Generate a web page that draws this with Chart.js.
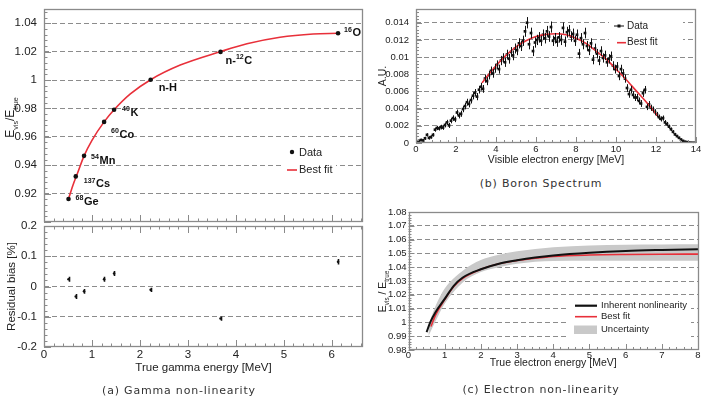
<!DOCTYPE html>
<html>
<head>
<meta charset="utf-8">
<title>Energy non-linearity</title>
<script src="https://cdn.jsdelivr.net/npm/chart.js@4.4.1/dist/chart.umd.min.js"></script>
<style>
  body { margin: 0; background: #fff; }
  #page { position: relative; width: 702px; height: 397px; overflow: hidden; background: #fff; }
  #page canvas { position: absolute; }
  .caption { position: absolute; font-family: 'DejaVu Sans', sans-serif; font-size: 11px; color: #333;
             letter-spacing: 0.8px; white-space: nowrap; line-height: 1; transform: translate(-50%, -50%); }
</style>
</head>
<body>
<div id="page">
  <canvas id="gammaTop" width="370" height="226" style="left:0px;top:0px"></canvas>
  <canvas id="gammaRes" width="370" height="170" style="left:0px;top:216px"></canvas>
  <canvas id="boron" width="330" height="170" style="left:372px;top:0px"></canvas>
  <canvas id="electron" width="330" height="175" style="left:372px;top:200px"></canvas>
  <div class="caption" style="left:179px;top:390px">(a) Gamma non-linearity</div>
  <div class="caption" style="left:541px;top:183px">(b) Boron Spectrum</div>
  <div class="caption" style="left:541px;top:389px">(c) Electron non-linearity</div>
</div>
<script>
// (a) gamma sources
const gammaSources = ['^{68}Ge', '^{137}Cs', '^{54}Mn', '^{60}Co', '^{40}K', 'n-H', 'n-^{12}C', '^{16}O'];
const gammaEnergy = [0.511, 0.662, 0.835, 1.253, 1.461, 2.223, 3.68, 6.13];
const gammaRatio = [0.9162, 0.9321, 0.9466, 0.9705, 0.9790, 1.0002, 1.0198, 1.0329];
const gammaResidual = [0.024, -0.033, -0.016, 0.024, 0.043, -0.011, -0.106, 0.082];
const gammaResidualErr = [0.008, 0.008, 0.008, 0.008, 0.008, 0.007, 0.007, 0.009];
const gammaFitEnergy = [0.511, 0.6, 0.7, 0.835, 1.0, 1.253, 1.461, 1.8, 2.223, 2.84, 3.68, 4.23, 4.92, 5.61, 6.13];
const gammaFitRatio = [0.9162, 0.9256, 0.9345, 0.9466, 0.9575, 0.9705, 0.9790, 0.9902, 1.0002, 1.0105, 1.0200, 1.0255, 1.0301, 1.0324, 1.0329];
const gammaXTicks = [0, 1, 2, 3, 4, 5, 6];
const gammaRatioTicks = [0.92, 0.94, 0.96, 0.98, 1, 1.02, 1.04];
const residualTicks = [-0.2, -0.1, 0, 0.1, 0.2];

// (b) boron spectrum, 0.1 MeV bins
const boronEnergy = [
  0.05, 0.15, 0.25, 0.35, 0.45, 0.55, 0.65, 0.75, 0.85, 0.95,
  1.05, 1.15, 1.25, 1.35, 1.45, 1.55, 1.65, 1.75, 1.85, 1.95,
  2.05, 2.15, 2.25, 2.35, 2.45, 2.55, 2.65, 2.75, 2.85, 2.95,
  3.05, 3.15, 3.25, 3.35, 3.45, 3.55, 3.65, 3.75, 3.85, 3.95,
  4.05, 4.15, 4.25, 4.35, 4.45, 4.55, 4.65, 4.75, 4.85, 4.95,
  5.05, 5.15, 5.25, 5.35, 5.45, 5.55, 5.65, 5.75, 5.85, 5.95,
  6.05, 6.15, 6.25, 6.35, 6.45, 6.55, 6.65, 6.75, 6.85, 6.95,
  7.05, 7.15, 7.25, 7.35, 7.45, 7.55, 7.65, 7.75, 7.85, 7.95,
  8.05, 8.15, 8.25, 8.35, 8.45, 8.55, 8.65, 8.75, 8.85, 8.95,
  9.05, 9.15, 9.25, 9.35, 9.45, 9.55, 9.65, 9.75, 9.85, 9.95,
  10.05, 10.15, 10.25, 10.35, 10.45, 10.55, 10.65, 10.75, 10.85, 10.95,
  11.05, 11.15, 11.25, 11.35, 11.45, 11.55, 11.65, 11.75, 11.85, 11.95,
  12.05, 12.15, 12.25, 12.35, 12.45, 12.55, 12.65, 12.75, 12.85, 12.95,
  13.05, 13.15, 13.25, 13.35, 13.45, 13.55, 13.65, 13.75, 13.85, 13.95
];
const boronCounts = [
  0.00015, 0.00025, 0.00035, 0.0003, 0.00055, 0.00095, 0.0006, 0.0007, 0.00095, 0.00155,
  0.00175, 0.0017, 0.00185, 0.0018, 0.0021, 0.0024, 0.00205, 0.0026, 0.0029, 0.00275,
  0.00355, 0.0032, 0.0034, 0.00395, 0.0043, 0.00475, 0.00455, 0.005, 0.0055, 0.00585,
  0.0054, 0.0062, 0.00655, 0.0063, 0.0075, 0.0072, 0.0079, 0.0084, 0.0081, 0.0087,
  0.0091, 0.0086, 0.0096, 0.0099, 0.0094, 0.0103, 0.0098, 0.0106, 0.0102, 0.011,
  0.0108, 0.0116, 0.0113, 0.0119, 0.013, 0.014, 0.0115, 0.0128, 0.0107, 0.0117,
  0.012, 0.0123, 0.0119, 0.0126, 0.0122, 0.013, 0.0124, 0.0135, 0.0119, 0.0122,
  0.0118, 0.0123, 0.012, 0.0134, 0.0118, 0.0129, 0.0131, 0.0124, 0.0127, 0.0119,
  0.0126, 0.0104, 0.0122, 0.0115, 0.0128, 0.0113, 0.0108, 0.0116, 0.0097, 0.011,
  0.0104, 0.0096, 0.0107, 0.0099, 0.0102, 0.0094, 0.0098, 0.0101, 0.009, 0.0086,
  0.0089, 0.0078, 0.0086, 0.0081, 0.0075, 0.0064, 0.0057, 0.0062, 0.0056, 0.0053,
  0.0053, 0.0049, 0.0046, 0.0058, 0.0062, 0.0042, 0.0045, 0.0041, 0.0039, 0.0036,
  0.0033, 0.003, 0.0028, 0.0029, 0.0024, 0.0022, 0.0019, 0.0016, 0.0013, 0.001,
  0.0008, 0.0006, 0.0004, 0.00025, 0.00015, 0.0001, 0.00005, 0.00003, 0.00002, 0.00002
];
const boronErrors = [
  0.00012, 0.00012, 0.00014, 0.00015, 0.00017, 0.00019, 0.0002, 0.0002, 0.00021, 0.00024,
  0.00025, 0.00025, 0.00027, 0.00027, 0.00028, 0.0003, 0.0003, 0.00031, 0.00032, 0.00032,
  0.00034, 0.00034, 0.00035, 0.00037, 0.00038, 0.0004, 0.0004, 0.0004, 0.00042, 0.00043,
  0.00042, 0.00044, 0.00045, 0.00045, 0.00048, 0.00047, 0.0005, 0.0005, 0.0005, 0.00052,
  0.00052, 0.00052, 0.00054, 0.00055, 0.00054, 0.00056, 0.00056, 0.00057, 0.00057, 0.00058,
  0.00058, 0.0006, 0.00059, 0.0006, 0.00064, 0.00066, 0.0006, 0.00063, 0.00058, 0.0006,
  0.0006, 0.00061, 0.0006, 0.00062, 0.00061, 0.00063, 0.00062, 0.00065, 0.0006, 0.00061,
  0.0006, 0.00061, 0.0006, 0.00064, 0.0006, 0.00063, 0.00063, 0.00061, 0.00062, 0.0006,
  0.00061, 0.00056, 0.0006, 0.00059, 0.00062, 0.00058, 0.00057, 0.00059, 0.00054, 0.00057,
  0.00055, 0.00054, 0.00056, 0.00054, 0.00055, 0.00053, 0.00054, 0.00055, 0.00052, 0.00051,
  0.00052, 0.00049, 0.00051, 0.0005, 0.00048, 0.00045, 0.00043, 0.00044, 0.00042, 0.00041,
  0.00042, 0.0004, 0.0004, 0.00043, 0.00044, 0.00037, 0.00038, 0.00036, 0.00035, 0.00034,
  0.00032, 0.00031, 0.0003, 0.0003, 0.00027, 0.00025, 0.00024, 0.00021, 0.0002, 0.00018,
  0.00015, 0.00013, 0.00011, 0.00009, 0.00007, 0.00006, 0.00004, 0.00003, 0.00003, 0.00003
];
const boronFitEnergy = [3.3, 3.5, 4.0, 4.5, 5.0, 5.5, 6.0, 6.5, 7.0, 7.5, 8.0, 8.5, 9.0, 9.5, 10.0, 10.5, 11.0, 11.5, 12.0, 12.1];
const boronFitCounts = [0.0070, 0.0076, 0.0090, 0.0102, 0.0112, 0.0119, 0.0124, 0.01265, 0.01272, 0.0126, 0.0122, 0.0116, 0.0107, 0.0098, 0.0086, 0.0074, 0.0061, 0.0048, 0.0034, 0.0031];
const boronXTicks = [0, 2, 4, 6, 8, 10, 12, 14];
const boronYTicks = [0, 0.002, 0.004, 0.006, 0.008, 0.01, 0.012, 0.014];

// (c) electron non-linearity
const inherentEnergy = [0.5, 0.6, 0.75, 1.0, 1.25, 1.5, 2.0, 2.5, 3.0, 3.5, 4.0, 5.0, 6.0, 7.0, 8.0];
const inherentRatio = [0.993, 1.0, 1.0075, 1.017, 1.0265, 1.0325, 1.0385, 1.0425, 1.045, 1.047, 1.0485, 1.0505, 1.0518, 1.0525, 1.053];
const bestFitEnergy = [0.62, 0.75, 1.0, 1.25, 1.5, 2.0, 2.5, 3.0, 3.5, 4.0, 5.0, 6.0, 7.0, 8.0];
const bestFitRatio = [0.997, 1.0055, 1.0165, 1.026, 1.032, 1.0385, 1.0425, 1.0448, 1.0465, 1.0478, 1.0488, 1.0492, 1.0494, 1.0495];
const bandEnergy = [0.55, 0.75, 1.0, 1.5, 2.0, 2.5, 3.0, 4.0, 5.0, 6.0, 7.0, 8.0];
const bandUpper = [0.998, 1.012, 1.0245, 1.0375, 1.0452, 1.049, 1.0515, 1.0545, 1.0558, 1.0563, 1.0565, 1.0566];
const bandLower = [0.99, 1.001, 1.0135, 1.029, 1.0365, 1.040, 1.0425, 1.0445, 1.0446, 1.0446, 1.0446, 1.0446];
const electronXTicks = [0, 1, 2, 3, 4, 5, 6, 7, 8];
const electronYTicks = [0.98, 0.99, 1, 1.01, 1.02, 1.03, 1.04, 1.05, 1.06, 1.07, 1.08];

const RED = '#e8303a';
const TXT = '#222';
const GRID = '#8c8c8c';
const FRAME = '#8a8a8a';
const FONT = "'Liberation Sans', Arial, sans-serif";
const NARROW = "'Liberation Sans Narrow', 'Liberation Sans', Arial, sans-serif";

Chart.defaults.font.family = FONT;
Chart.defaults.color = TXT;

const fmt = v => String(parseFloat(v.toFixed(6)));
const pts = (xs, ys) => xs.map((x, i) => ({ x: x, y: ys[i] }));

function axis(o) {
  const onEdge = v => Math.abs(v - o.min) < 1e-9 || Math.abs(v - o.max) < 1e-9;
  return {
    type: 'linear', position: o.position, min: o.min, max: o.max, display: o.display !== false,
    afterBuildTicks: s => { s.ticks = o.ticks.map(v => ({ value: v })); },
    ticks: { autoSkip: false, maxRotation: 0, padding: o.pad, color: TXT,
             font: { size: o.size, family: o.family || FONT }, callback: v => fmt(v) },
    grid: {
      display: !!o.grid, drawTicks: false, lineWidth: 1,
      color: c => (c.tick && !onEdge(c.tick.value)) ? GRID : 'rgba(0,0,0,0)'
    },
    border: { display: false, dash: [5, 3] },
    title: o.title ? { display: true, text: o.title, color: TXT, font: { size: o.titleSize }, padding: o.titlePad } : { display: false },
    afterFit: s => {
      if (o.position === 'left') s.width = o.extent; else s.height = o.extent;
      s.paddingLeft = s.paddingRight = s.paddingTop = s.paddingBottom = 0;
    }
  };
}

function isMajor(v, major) {
  const r = v / major;
  return Math.abs(r - Math.round(r)) < 1e-6;
}

function axisTicks(ctx, scale, a, step, major, side, long, short) {
  const k0 = Math.ceil(scale.min / step - 1e-6), k1 = Math.floor(scale.max / step + 1e-6);
  ctx.beginPath();
  for (let k = k0; k <= k1; k++) {
    const v = k * step;
    const len = isMajor(v, major) ? long : short;
    const p = Math.round(scale.getPixelForValue(v)) + 0.5;
    if (side === 'left') { ctx.moveTo(a.left, p); ctx.lineTo(a.left + len, p); }
    if (side === 'bottom') { ctx.moveTo(p, a.bottom); ctx.lineTo(p, a.bottom - len); }
    if (side === 'top') { ctx.moveTo(p, a.top); ctx.lineTo(p, a.top + len); }
  }
  ctx.stroke();
}

// text with ^{...} superscripts
function drawRich(ctx, text, x, y, size) {
  const parts = text.split(/\^\{([^}]*)\}/);
  let cx = x;
  parts.forEach((p, i) => {
    if (!p) return;
    const sup = i % 2 === 1;
    ctx.font = 'bold ' + (sup ? size * 0.64 : size) + 'px ' + FONT;
    ctx.fillText(p, cx, sup ? y - size * 0.42 : y);
    cx += ctx.measureText(p).width + (sup ? 0.6 : 0);
  });
}

// rotated axis title with subscripts: parts = [[text, isSub], ...]
function verticalTitle(ctx, parts, cx, cy, size) {
  ctx.save();
  ctx.translate(cx, cy);
  ctx.rotate(-Math.PI / 2);
  ctx.fillStyle = TXT;
  ctx.textBaseline = 'alphabetic';
  const font = sub => (sub ? size * 0.6 : size) + 'px ' + FONT;
  let w = 0;
  parts.forEach(([t, sub]) => { ctx.font = font(sub); w += ctx.measureText(t).width; });
  let x = -w / 2;
  const base = size * 0.36;
  parts.forEach(([t, sub]) => {
    ctx.font = font(sub);
    ctx.fillText(t, x, sub ? base + size * 0.28 : base);
    x += ctx.measureText(t).width;
  });
  ctx.restore();
}

function errorBars(chart, dsIndex, errs, width) {
  const { ctx, scales: { x, y } } = chart;
  const data = chart.data.datasets[dsIndex].data;
  ctx.save();
  ctx.strokeStyle = '#111';
  ctx.lineWidth = width;
  ctx.beginPath();
  data.forEach((d, i) => {
    const px = Math.round(x.getPixelForValue(d.x)) + 0.5;
    ctx.moveTo(px, y.getPixelForValue(d.y - errs[i]));
    ctx.lineTo(px, y.getPixelForValue(d.y + errs[i]));
  });
  ctx.stroke();
  ctx.restore();
}

function rootFrame(cfg) {
  return {
    id: 'rootFrame',
    afterDatasetsDraw(chart) {
      if (cfg.errors) errorBars(chart, cfg.errors.index, cfg.errors.values, cfg.errors.width);
    },
    afterDraw(chart) {
      const { ctx, chartArea: a, scales } = chart;
      ctx.save();
      ctx.strokeStyle = FRAME;
      ctx.lineWidth = 1;
      axisTicks(ctx, scales.y, a, cfg.yMinor, cfg.yMajor, 'left', cfg.long, cfg.short);
      cfg.xSides.forEach(side => axisTicks(ctx, scales.x, a, cfg.xMinor, cfg.xMajor, side, cfg.long, cfg.short));
      ctx.lineWidth = 1.3;
      ctx.strokeRect(Math.round(a.left) + 0.5, Math.round(a.top) + 0.5,
                     Math.round(a.right - a.left) - 1, Math.round(a.bottom - a.top) - 1);
      ctx.restore();
      if (cfg.extra) { ctx.save(); cfg.extra(chart, ctx); ctx.restore(); }
    }
  };
}

function makeChart(id, cfg) {
  return new Chart(document.getElementById(id), {
    type: cfg.type || 'scatter',
    data: { datasets: cfg.datasets },
    options: {
      responsive: false, animation: false, events: [],
      layout: { padding: cfg.padding },
      plugins: { legend: { display: false }, tooltip: { enabled: false } },
      scales: { x: cfg.x, y: cfg.y }
    },
    plugins: [rootFrame(cfg.frame)]
  });
}

// label offsets (px) from each gamma point to the start/baseline of its label
const gammaLabelOffset = [[7, 6], [8, 11], [7, 8], [7, 16], [8, 6], [8, 11], [5, 12], [6, 3]];

makeChart('gammaTop', {
  padding: { left: 0, top: 9, right: 7, bottom: 0 },
  datasets: [
    { data: pts(gammaFitEnergy, gammaFitRatio), showLine: true, borderColor: RED, borderWidth: 1.6,
      pointRadius: 0, cubicInterpolationMode: 'monotone', order: 1 },
    { data: pts(gammaEnergy, gammaRatio), pointRadius: 2.3, pointBackgroundColor: '#111',
      pointBorderWidth: 0, order: 0 }
  ],
  x: axis({ position: 'bottom', min: 0, max: 6.65, ticks: gammaXTicks, display: false, extent: 0 }),
  y: axis({ position: 'left', min: 0.9, max: 1.05, ticks: gammaRatioTicks, grid: true, pad: 7, size: 11.5,
            family: NARROW, extent: 44 }),
  frame: {
    yMinor: 0.004, yMajor: 0.02, xMinor: 0.2, xMajor: 1, xSides: ['bottom'], long: 7, short: 3.5,
    extra(chart, ctx) {
      const { x, y } = chart.scales;
      ctx.fillStyle = '#111';
      ctx.textBaseline = 'alphabetic';
      gammaSources.forEach((name, i) => {
        const [dx, dy] = gammaLabelOffset[i];
        drawRich(ctx, name, x.getPixelForValue(gammaEnergy[i]) + dx, y.getPixelForValue(gammaRatio[i]) + dy, 11);
      });
      verticalTitle(ctx, [['E', 0], ['vis', 1], ['/E', 0], ['true', 1]], 10, 117.5, 12);
      // legend
      ctx.fillStyle = '#fff';
      ctx.fillRect(281, 144, 55, 34);
      ctx.fillStyle = '#111';
      ctx.beginPath(); ctx.arc(292, 152, 2.2, 0, Math.PI * 2); ctx.fill();
      ctx.strokeStyle = RED; ctx.lineWidth = 1.6;
      ctx.beginPath(); ctx.moveTo(287, 170); ctx.lineTo(297, 170); ctx.stroke();
      ctx.fillStyle = TXT; ctx.font = '11px ' + FONT; ctx.textBaseline = 'middle';
      ctx.fillText('Data', 299, 152.5);
      ctx.fillText('Best fit', 299, 170);
    }
  }
});

makeChart('gammaRes', {
  padding: { left: 0, top: 10, right: 7, bottom: 0 },
  datasets: [
    { data: pts(gammaEnergy, gammaResidual), pointRadius: 1.3, pointBackgroundColor: '#111', pointBorderWidth: 0 }
  ],
  x: axis({ position: 'bottom', min: 0, max: 6.65, ticks: gammaXTicks, pad: 1, size: 11.5, extent: 39,
            title: 'True gamma energy [MeV]', titleSize: 11.5, titlePad: { top: 0, bottom: 11 } }),
  y: axis({ position: 'left', min: -0.2, max: 0.2, ticks: residualTicks, grid: true, pad: 7, size: 11.5,
            family: NARROW, extent: 44,
            title: 'Residual bias [%]', titleSize: 11.5, titlePad: { top: 5, bottom: 0 } }),
  frame: {
    yMinor: 0.02, yMajor: 0.1, xMinor: 0.2, xMajor: 1, xSides: ['bottom', 'top'], long: 7, short: 3.5,
    errors: { index: 0, values: gammaResidualErr, width: 1.6 }
  }
});

makeChart('boron', {
  padding: { left: 0, top: 9, right: 6, bottom: 0 },
  datasets: [
    { data: pts(boronFitEnergy, boronFitCounts), showLine: true, borderColor: RED, borderWidth: 1.6,
      pointRadius: 0, cubicInterpolationMode: 'monotone', order: 0 },
    { data: pts(boronEnergy, boronCounts), pointStyle: 'rect', pointRadius: 1.9, pointBackgroundColor: '#111',
      pointBorderWidth: 0, order: 1 }
  ],
  x: axis({ position: 'bottom', min: 0, max: 14, ticks: boronXTicks, pad: 1, size: 9.5, extent: 27,
            title: 'Visible electron energy [MeV]', titleSize: 10.5, titlePad: { top: 0, bottom: 4 } }),
  y: axis({ position: 'left', min: 0, max: 0.0156, ticks: boronYTicks, grid: true, pad: 7, size: 9.5, extent: 44,
            title: 'A.U.', titleSize: 10.5, titlePad: { top: 5, bottom: 0 } }),
  frame: {
    yMinor: 0.0004, yMajor: 0.002, xMinor: 0.4, xMajor: 2, xSides: ['bottom'], long: 6, short: 3,
    errors: { index: 1, values: boronErrors, width: 1 },
    extra(chart, ctx) {
      ctx.fillStyle = '#fff';
      ctx.fillRect(237, 16, 74, 34);
      ctx.strokeStyle = '#111'; ctx.lineWidth = 1;
      ctx.beginPath(); ctx.moveTo(242, 26); ctx.lineTo(252, 26); ctx.stroke();
      ctx.fillStyle = '#111'; ctx.fillRect(245.5, 24.5, 3, 3);
      ctx.strokeStyle = RED; ctx.lineWidth = 1.6;
      ctx.beginPath(); ctx.moveTo(245, 42.7); ctx.lineTo(254, 42.7); ctx.stroke();
      ctx.fillStyle = TXT; ctx.font = '10px ' + FONT; ctx.textBaseline = 'middle';
      ctx.fillText('Data', 255, 26);
      ctx.fillText('Best fit', 255, 42.7);
    }
  }
});

makeChart('electron', {
  type: 'line',
  padding: { left: 0, top: 12, right: 4, bottom: 0 },
  datasets: [
    { data: pts(bandEnergy, bandUpper), borderWidth: 0, borderColor: 'rgba(0,0,0,0)', pointRadius: 0,
      fill: '+1', backgroundColor: '#c9c9c9', cubicInterpolationMode: 'monotone', order: 3 },
    { data: pts(bandEnergy, bandLower), borderWidth: 0, borderColor: 'rgba(0,0,0,0)', pointRadius: 0,
      fill: false, cubicInterpolationMode: 'monotone', order: 4 },
    { data: pts(bestFitEnergy, bestFitRatio), borderColor: RED, borderWidth: 1.6, pointRadius: 0,
      fill: false, cubicInterpolationMode: 'monotone', order: 1 },
    { data: pts(inherentEnergy, inherentRatio), borderColor: '#111', borderWidth: 2, pointRadius: 0,
      fill: false, cubicInterpolationMode: 'monotone', order: 0 }
  ],
  x: axis({ position: 'bottom', min: 0, max: 8, ticks: electronXTicks, pad: 0, size: 9.5, extent: 25,
            title: 'True electron energy [MeV]', titleSize: 10.5, titlePad: { top: 0, bottom: 5.5 } }),
  y: axis({ position: 'left', min: 0.98, max: 1.08, ticks: electronYTicks, grid: true, pad: 2, size: 9.5, extent: 36.5 }),
  frame: {
    yMinor: 0.002, yMajor: 0.01, xMinor: 0.2, xMajor: 1, xSides: ['bottom'], long: 6, short: 3,
    extra(chart, ctx) {
      verticalTitle(ctx, [['E', 0], ['vis', 1], [' / E', 0], ['true', 1]], 10, 91.5, 10.5);
      ctx.fillStyle = '#fff';
      ctx.fillRect(197, 98, 122, 40);
      ctx.lineWidth = 2.2; ctx.strokeStyle = '#111';
      ctx.beginPath(); ctx.moveTo(203, 105.7); ctx.lineTo(225, 105.7); ctx.stroke();
      ctx.lineWidth = 1.6; ctx.strokeStyle = RED;
      ctx.beginPath(); ctx.moveTo(203, 116.7); ctx.lineTo(225, 116.7); ctx.stroke();
      ctx.fillStyle = '#c9c9c9'; ctx.fillRect(202, 125.5, 23, 8.5);
      ctx.fillStyle = TXT; ctx.font = '9.5px ' + FONT; ctx.textBaseline = 'middle';
      ctx.fillText('Inherent nonlinearity', 229, 105.7);
      ctx.fillText('Best fit', 229, 116.7);
      ctx.fillText('Uncertainty', 229, 129.5);
    }
  }
});
</script>
</body>
</html>
